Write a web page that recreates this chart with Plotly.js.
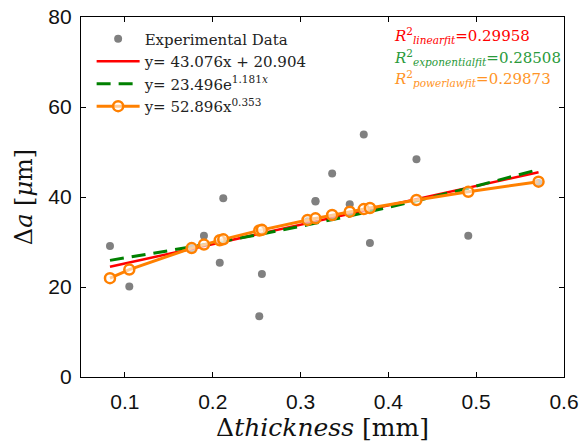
<!DOCTYPE html>
<html>
<head>
<meta charset="utf-8">
<script src="https://cdn.plot.ly/plotly-3.0.1.min.js"></script>
<style>html,body{margin:0;padding:0;background:#fff;}#chart{width:582px;height:446px;}</style>
</head>
<body>
<div id="chart"></div>
<script>
const dataX = [0.083, 0.105, 0.176, 0.190, 0.208, 0.212, 0.253, 0.256, 0.308, 0.317, 0.317, 0.336, 0.356, 0.372, 0.379, 0.432, 0.491, 0.571];
const dataY = [29.1, 20.1, 28.6, 31.4, 25.4, 39.7, 13.5, 22.9, 34.6, 39.1, 39.0, 45.2, 38.4, 53.9, 29.8, 48.4, 31.4, 43.1];

// Fit curves evaluated at the data abscissae
const fitX = [0.083, 0.105, 0.176, 0.190, 0.208, 0.212, 0.253, 0.256, 0.308, 0.317, 0.336, 0.356, 0.372, 0.379, 0.432, 0.491, 0.571];
const linearY = [24.48, 25.43, 28.49, 29.09, 29.86, 30.04, 31.80, 31.93, 34.17, 34.56, 35.38, 36.24, 36.93, 37.23, 39.51, 42.05, 45.50];
const expY = [25.92, 26.60, 28.92, 29.41, 30.04, 30.18, 31.68, 31.79, 33.80, 34.17, 34.94, 35.78, 36.46, 36.76, 39.14, 41.96, 46.12];
const powerY = [21.97, 23.87, 28.65, 29.43, 30.39, 30.59, 32.56, 32.70, 34.91, 35.26, 36.00, 36.74, 37.31, 37.56, 39.33, 41.15, 43.40];

const legendNames = ['Experimental Data', 'y= 43.076x + 20.904', 'y= 23.496e<sup>1.181<i>x</i></sup>', 'y= 52.896x<sup>0.353</sup>'];
const r2Labels = ['linearfit', 'exponentialfit', 'powerlawfit'];
const r2Values = ['0.29958', '0.28508', '0.29873'];
const r2Colors = ['#ff0000', '#2a9a3a', '#ff9426'];

const xTicks = [0.1, 0.2, 0.3, 0.4, 0.5, 0.6];
const yTicks = [0, 20, 40, 60, 80];

const serif = 'DejaVu Serif, Liberation Serif, serif';
const sans = 'Liberation Sans, Arial, sans-serif';

const traces = [
  {x: dataX, y: dataY, mode: 'markers', type: 'scatter', name: legendNames[0],
   marker: {color: '#808080', size: 8}},
  {x: fitX, y: linearY, mode: 'lines', type: 'scatter', name: legendNames[1],
   line: {color: '#ff0000', width: 2.5}},
  {x: fitX, y: expY, mode: 'lines', type: 'scatter', name: legendNames[2],
   line: {color: '#008000', width: 3, dash: '14px,8px'}},
  {x: fitX, y: powerY, mode: 'lines+markers', type: 'scatter', name: legendNames[3],
   line: {color: '#ff8000', width: 3},
   marker: {symbol: 'circle', size: 10, color: 'rgba(255,255,255,0.6)', line: {color: '#ff8000', width: 2.5}}}
];

const annotations = r2Labels.map((lab, i) => ({
  xref: 'paper', yref: 'paper', x: 0.643, y: 0.948 - i * 0.06,
  xanchor: 'left', yanchor: 'middle', showarrow: false,
  text: '<i>R</i><sup>2</sup><sub><i>' + lab + '</i></sub>=' + r2Values[i],
  font: {family: serif, size: 15, color: r2Colors[i]}
}));

const layout = {
  width: 582, height: 446,
  margin: {l: 81, r: 18, t: 17, b: 69},
  paper_bgcolor: '#fff', plot_bgcolor: '#fff',
  showlegend: true,
  legend: {x: 0.022, y: 0.985, xanchor: 'left', yanchor: 'top', bgcolor: 'rgba(255,255,255,0)',
           borderwidth: 0, itemwidth: 43, font: {family: serif, size: 15, color: '#222'}, tracegroupgap: 0},
  xaxis: {range: [0.05, 0.6], tickvals: xTicks, ticktext: xTicks.map(v => v.toFixed(1)),
          ticks: 'inside', ticklen: 5, tickcolor: '#000', showline: true, linecolor: '#000', linewidth: 1.2,
          mirror: 'ticks', showgrid: false, zeroline: false, ticklabelstandoff: 6,
          tickfont: {family: sans, size: 21, color: '#111'},
          title: {text: '\u0394<i>thickness</i> [mm]', font: {family: serif, size: 25, color: '#111'}, standoff: 2}},
  yaxis: {range: [0, 80], tickvals: yTicks, ticktext: yTicks.map(String),
          ticks: 'inside', ticklen: 5, tickcolor: '#000', showline: true, linecolor: '#000', linewidth: 1.2,
          mirror: 'ticks', showgrid: false, zeroline: false, ticklabelstandoff: 4,
          tickfont: {family: sans, size: 21, color: '#111'},
          title: {text: '\u0394<i>a</i> [<i>\u03bc</i>m]', font: {family: serif, size: 24, color: '#111'}, standoff: 8}},
  annotations: annotations
};

Plotly.newPlot('chart', traces, layout, {displayModeBar: false, staticPlot: true});
</script>
</body>
</html>
